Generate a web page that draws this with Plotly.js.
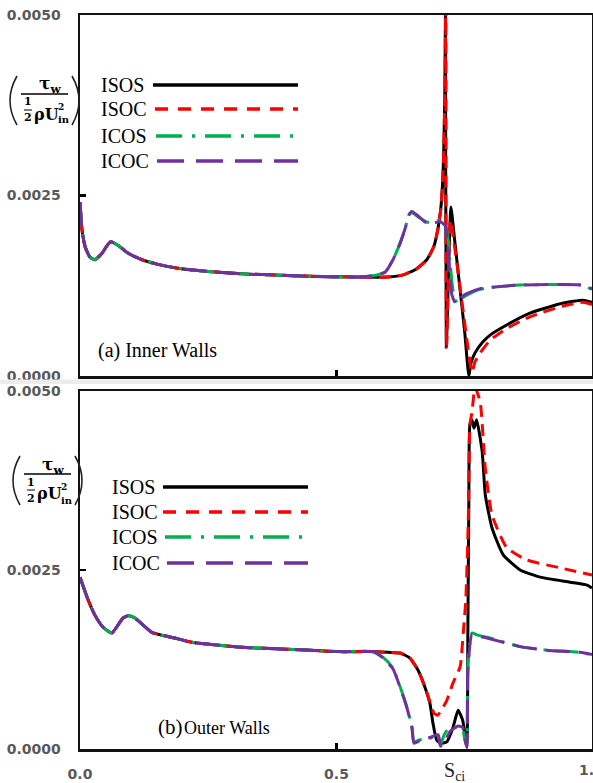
<!DOCTYPE html>
<html><head><meta charset="utf-8">
<script src="https://cdn.plot.ly/plotly-3.0.1.min.js"></script>
<style>html,body{margin:0;padding:0;overflow:hidden;background:#fff}#chart{width:593px;height:783px}</style>
</head><body><div id="chart"></div>
<script>
// ---------- DATA ----------
const seriesNames = ['ISOS','ISOC','ICOS','ICOC'];
const xTickVals = [0, 0.5];
const xTickText = ['0.0', '0.5'];
const yTickVals = [0, 0.0025, 0.005];
const yTickText = ['0.0000', '0.0025', '0.0050'];
const sciPosition = 0.73;

// (a) Inner walls - shared entrance part
const innerStartX = [0.000,0.004,0.010,0.019,0.029,0.043,0.053,0.060,0.074,0.094,0.121,0.150,0.185,0.230,0.283,0.330,0.380,0.450,0.546];
const innerStartY = [0.00241,0.00202,0.00179,0.00165,0.00161,0.00170,0.00181,0.00186,0.00181,0.00170,0.00161,0.00155,0.00150,0.00146,0.00143,0.00141,0.00140,0.00138,0.00137];

const innerIsosX = [0.600,0.630,0.655,0.676,0.690,0.698,0.703,0.707,0.709,0.711,0.7125,0.7140,0.723,0.730,0.740,0.750,0.758,0.762,0.770,0.785,0.800,0.830,0.877,0.942,0.980,0.998];
const innerIsosY = [0.00137,0.00140,0.00148,0.00161,0.00180,0.00205,0.00230,0.00270,0.00313,0.00382,0.00510,0.00040,0.00234,0.00190,0.00125,0.00060,0.00000,0.00018,0.00032,0.00047,0.00057,0.00070,0.00087,0.00101,0.00105,0.00102];

const innerIsocX = [0.600,0.630,0.655,0.676,0.690,0.698,0.703,0.707,0.709,0.711,0.7130,0.7145,0.722,0.732,0.745,0.756,0.764,0.770,0.780,0.800,0.830,0.877,0.942,0.980,0.998];
const innerIsocY = [0.00137,0.00140,0.00148,0.00161,0.00180,0.00205,0.00230,0.00270,0.00313,0.00382,0.00510,0.00040,0.00216,0.00170,0.00100,0.00040,0.00005,0.00020,0.00032,0.00050,0.00065,0.00082,0.00097,0.00102,0.00099];

const innerIcosX = [0.579,0.595,0.610,0.624,0.634,0.641,0.647,0.660,0.676,0.690,0.702,0.712,0.717,0.721,0.727,0.735,0.745,0.754,0.780,0.820,0.858,0.975,0.998];
const innerIcosY = [0.00140,0.00144,0.00161,0.00184,0.00205,0.00223,0.00226,0.00220,0.00213,0.00214,0.00216,0.00210,0.00193,0.00161,0.00119,0.00101,0.00108,0.00112,0.00120,0.00124,0.00126,0.00126,0.00120];

const innerIcocX = [0.579,0.595,0.610,0.624,0.634,0.641,0.647,0.660,0.676,0.690,0.702,0.712,0.716,0.720,0.725,0.733,0.745,0.754,0.780,0.820,0.858,0.975,0.998];
const innerIcocY = [0.00140,0.00144,0.00161,0.00184,0.00205,0.00223,0.00228,0.00221,0.00212,0.00212,0.00214,0.00208,0.00185,0.00150,0.00112,0.00100,0.00110,0.00114,0.00121,0.00124,0.00126,0.00126,0.00121];

// (b) Outer walls - shared entrance part
const outerStartX = [0.000,0.016,0.029,0.045,0.062,0.074,0.084,0.094,0.107,0.140,0.185,0.218,0.316,0.380,0.450,0.507];
const outerStartY = [0.00240,0.00208,0.00187,0.00170,0.00162,0.00173,0.00183,0.00186,0.00183,0.00163,0.00155,0.00149,0.00142,0.00140,0.00138,0.00136];

const outerIsosX = [0.560,0.600,0.624,0.643,0.659,0.672,0.682,0.688,0.695,0.702,0.715,0.727,0.737,0.746,0.750,0.754,0.756,0.758,0.760,0.764,0.768,0.773,0.784,0.790,0.803,0.825,0.858,0.897,0.955,0.988,0.998];
const outerIsosY = [0.00136,0.00135,0.00134,0.00127,0.00110,0.00087,0.00064,0.00036,0.00013,0.00008,0.00010,0.00030,0.00054,0.00040,0.00022,0.00010,0.00162,0.00350,0.00453,0.00460,0.00448,0.00460,0.00415,0.00355,0.00309,0.00271,0.00250,0.00240,0.00233,0.00229,0.00225];

const outerIsocX = [0.560,0.600,0.624,0.643,0.659,0.672,0.682,0.690,0.697,0.705,0.715,0.727,0.741,0.747,0.752,0.757,0.760,0.764,0.770,0.780,0.790,0.803,0.832,0.871,0.936,0.998];
const outerIsocY = [0.00136,0.00135,0.00134,0.00127,0.00110,0.00087,0.00066,0.00050,0.00047,0.00055,0.00068,0.00092,0.00115,0.00162,0.00208,0.00323,0.00453,0.00470,0.00505,0.00485,0.00392,0.00327,0.00281,0.00264,0.00253,0.00243];

const outerIcosX = [0.571,0.591,0.610,0.624,0.637,0.647,0.651,0.663,0.682,0.698,0.702,0.710,0.720,0.735,0.746,0.750,0.754,0.756,0.764,0.775,0.799,0.858,0.910,0.975,0.998];
const outerIcosY = [0.00136,0.00128,0.00113,0.00087,0.00059,0.00031,0.00010,0.00013,0.00015,0.00018,0.00005,0.00020,0.00030,0.00030,0.00027,0.00013,0.00003,0.00115,0.00162,0.00159,0.00155,0.00143,0.00138,0.00135,0.00131];

const outerIcocX = [0.571,0.591,0.610,0.624,0.637,0.647,0.651,0.663,0.682,0.698,0.703,0.712,0.722,0.737,0.746,0.750,0.754,0.756,0.764,0.775,0.799,0.858,0.910,0.975,0.998];
const outerIcocY = [0.00136,0.00127,0.00112,0.00086,0.00058,0.00030,0.00008,0.00012,0.00016,0.00020,0.00004,0.00012,0.00025,0.00032,0.00030,0.00015,0.00002,0.00110,0.00160,0.00158,0.00154,0.00143,0.00138,0.00135,0.00132];

// ---------- STYLE ----------
const W = 593, H = 783;
const px = x => x / W;
const py = y => 1 - y / H;
const colors = {ISOS:'#000000', ISOC:'#FF0000', ICOS:'#00B050', ICOC:'#7030A0'};
const plotDash = {ISOS:'solid', ISOC:'12px,7px', ICOS:'24px,8px,3px,8px', ICOC:'24px,9px'};
const legDash = {ISOS:'solid', ISOC:'13px,10px', ICOS:'26px,10px,3px,10px', ICOC:'27px,12px'};

function tr(name, xs, ys, xa, ya){
  return {type:'scatter', mode:'lines', name, x: xs, y: ys, xaxis: xa, yaxis: ya,
    showlegend:false, hoverinfo:'skip',
    line:{color: colors[name], width: 3, dash: plotDash[name], shape:'spline', smoothing:0.5}};
}
const traces = [
  tr('ISOS', innerStartX.concat(innerIsosX), innerStartY.concat(innerIsosY), 'x2','y2'),
  tr('ISOC', innerStartX.concat(innerIsocX), innerStartY.concat(innerIsocY), 'x2','y2'),
  tr('ICOS', innerStartX.concat(innerIcosX), innerStartY.concat(innerIcosY), 'x2','y2'),
  tr('ICOC', innerStartX.concat(innerIcocX), innerStartY.concat(innerIcocY), 'x2','y2'),
  tr('ISOS', outerStartX.concat(outerIsosX), outerStartY.concat(outerIsosY), 'x','y'),
  tr('ISOC', outerStartX.concat(outerIsocX), outerStartY.concat(outerIsocY), 'x','y'),
  tr('ICOS', outerStartX.concat(outerIcosX), outerStartY.concat(outerIcosY), 'x','y'),
  tr('ICOC', outerStartX.concat(outerIcocX), outerStartY.concat(outerIcocY), 'x','y'),
];

const tickFont = {family:'DejaVu Sans', size:14, color:'#595959', weight:'bold'};
const xDomain = [80/W, 592/W];
function xAxis(anchor, labels){
  return {domain:xDomain, anchor, range:[0,0.998], tickmode:'array', tickvals:xTickVals, ticktext:xTickText,
    showticklabels:labels, ticks:'inside', ticklen:6, tickwidth:2.5, tickcolor:'#000',
    showline:true, mirror:true, linewidth:2.5, linecolor:'#111', showgrid:false, zeroline:false,
    tickfont:tickFont, ticklabelstandoff:11, fixedrange:true};
}
function yAxis(anchor, dom){
  return {domain:dom, anchor, range:[0,0.005], tickmode:'array', tickvals:yTickVals, ticktext:yTickText,
    ticks:'inside', ticklen:6, tickwidth:2.5, tickcolor:'#000',
    showline:true, mirror:true, linewidth:2.5, linecolor:'#111', showgrid:false, zeroline:false,
    tickfont:tickFont, ticklabelstandoff:14, fixedrange:true};
}

const annotations = [];
const shapes = [];
function ann(text, x, y, size, o){
  o = o || {};
  annotations.push({text, x:px(x), y:py(y), xref:'paper', yref:'paper', showarrow:false,
    xanchor:o.xa||'left', yanchor:'middle', borderpad:0,
    font:{family:o.fam||'Liberation Serif', size, color:o.color||'#000', weight:o.w||'normal'}});
}
function hline(x0,x1,y,color,width,dash){
  shapes.push({type:'line', xref:'paper', yref:'paper', x0:px(x0), x1:px(x1), y0:py(y), y1:py(y),
    line:{color, width, dash:dash||'solid'}});
}

// legends
function legend(x0, ys, lineStarts, lineEnd){
  seriesNames.forEach((n,i)=>{
    ann(n, x0, ys[i], 20);
    hline(lineStarts[i], lineEnd, ys[i], colors[n], 3.5, legDash[n]);
  });
}
legend(100, [85,109,136,161], [153,155,156,157], 298);
legend(111, [487,512,537,563], [163,163,165,167], 308);

// panel labels
ann('(a) Inner Walls', 97, 350, 20);
ann('(b)', 157, 727, 21);
ann('Outer Walls', 183, 728, 18);

// S_ci and clipped 1.0 label
annotations.push({text:'S<sub>ci</sub>', x:sciPosition, xref:'x', y:py(771), yref:'paper', showarrow:false,
  xanchor:'center', yanchor:'middle', font:{family:'Liberation Serif', size:20, color:'#222'}});
ann('1.0', 591, 770, 14, {xa:'center', fam:'DejaVu Sans', color:'#595959', w:'bold'});

// y-axis label (tau_w / (1/2 rho U_in^2)) drawn twice
function yLabel(dx, dy){
  const f = 'DejaVu Serif';
  ann('τ<sub>w</sub>', 50+dx, 85+dy, 17, {xa:'center', fam:f, w:'bold'});
  hline(21+dx, 68+dx, 94+dy, '#000', 1.4);
  ann('1', 28+dx, 102+dy, 11, {xa:'center', fam:f, w:'bold'});
  hline(24+dx, 32+dx, 110+dy, '#000', 1);
  ann('2', 28+dx, 118+dy, 11, {xa:'center', fam:f, w:'bold'});
  ann('ρU', 33+dx, 114+dy, 16, {xa:'left', fam:f, w:'bold'});
  ann('2', 57+dx, 107+dy, 9, {xa:'left', fam:f, w:'bold'});
  ann('in', 57+dx, 120+dy, 10, {xa:'left', fam:f, w:'bold'});
  const pth = (pts) => 'M ' + px(pts[0][0]) + ' ' + py(pts[0][1]) + ' Q ' + px(pts[1][0]) + ' ' + py(pts[1][1]) + ' ' + px(pts[2][0]) + ' ' + py(pts[2][1]);
  shapes.push({type:'path', xref:'paper', yref:'paper', path:pth([[17+dx,76+dy],[3+dx,100.5+dy],[17+dx,125+dy]]), line:{color:'#222', width:1.6}});
  shapes.push({type:'path', xref:'paper', yref:'paper', path:pth([[72+dx,76+dy],[86+dx,100.5+dy],[72+dx,125+dy]]), line:{color:'#222', width:1.6}});
}
yLabel(0, 0);
yLabel(3, 380);

// separator band between the two stacked panels
shapes.push({type:'rect', xref:'paper', yref:'paper', x0:0, x1:1, y0:py(384), y1:py(379.5),
  fillcolor:'#ececec', line:{width:0}, layer:'above'});

const layout = {
  width:W, height:H, margin:{l:0,r:0,t:0,b:0}, paper_bgcolor:'#fff', plot_bgcolor:'#fff',
  showlegend:false,
  xaxis: xAxis('y', true),
  yaxis: yAxis('x', [1-749/H, 1-391/H]),
  xaxis2: xAxis('y2', false),
  yaxis2: yAxis('x2', [1-376/H, 1-15/H]),
  annotations, shapes
};
Plotly.newPlot('chart', traces, layout, {displayModeBar:false, staticPlot:true});
</script></body></html>
